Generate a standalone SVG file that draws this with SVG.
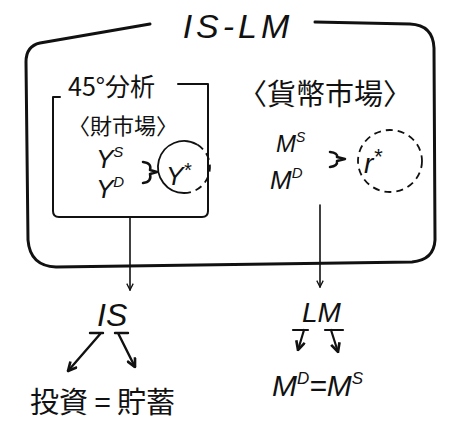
<svg xmlns="http://www.w3.org/2000/svg" width="459" height="426" viewBox="0 0 459 426">
<defs>
<style>
.t{font-family:"Liberation Sans","Noto Sans CJK JP",sans-serif;fill:#111;font-style:italic}
.j{font-family:"Noto Sans CJK JP","Liberation Sans",sans-serif;fill:#111}
.ln{fill:none;stroke:#111;stroke-linecap:round;stroke-linejoin:round}
.dash{fill:none;stroke:#111;stroke-width:1.8;stroke-dasharray:7 5}
</style>
<marker id="arr" viewBox="0 0 10 10" refX="9" refY="5" markerWidth="8" markerHeight="8" orient="auto" markerUnits="userSpaceOnUse">
<path d="M1,1 L9,5 L1,9" fill="none" stroke="#111" stroke-width="1.6"/>
</marker>
<marker id="arrB" viewBox="0 0 10 10" refX="9" refY="5" markerWidth="11" markerHeight="11" orient="auto" markerUnits="userSpaceOnUse">
<path d="M1,1 L9,5 L1,9" fill="none" stroke="#111" stroke-width="2.4"/>
</marker>
</defs>
<rect width="459" height="426" fill="#fff"/>

<g id="outer">
<path class="ln" stroke-width="3" d="M150,24 L40,43 Q26,46 26,62 L28,240 Q30,266 56,267 L412,262 Q434,260 435,240 L434,48 Q433,25 410,24 L315,22"/>
<text class="t" x="238" y="38" font-size="34" text-anchor="middle" letter-spacing="4">IS-LM</text>
</g>

<g id="goods">
<path class="ln" stroke-width="2" d="M60,97 L53,97 L53,211 Q53,217 59,217 L202,217 Q208,217 208,211 L208,84 L178,84"/>
<text class="j" x="68" y="96" font-size="25">45°分析</text>
<text class="j" x="68" y="134" font-size="22">〈財市場〉</text>
<text class="t" x="96" y="168" font-size="26">Y<tspan font-size="15" dy="-11">S</tspan></text>
<text class="t" x="96" y="198" font-size="26">Y<tspan font-size="15" dy="-11">D</tspan></text>
<path class="ln" stroke-width="2.5" d="M143,162 Q152,163 150,170 L157,172 L150,174 Q152,182 143,183"/>
<path class="ln" stroke-width="1.8" d="M197,144.5 A26,26 0 1 0 184,193"/>
<path class="dash" d="M184,193 A26,26 0 0 0 197,144.5"/>
<text class="t" x="166" y="185" font-size="26">Y<tspan font-size="20" dy="-8">*</tspan></text>
</g>

<g id="money">
<text class="j" x="238" y="105" font-size="29">〈貨幣市場〉</text>
<text class="t" x="276" y="152" font-size="24">M<tspan font-size="14" dy="-10">S</tspan></text>
<text class="t" x="270" y="189" font-size="26">M<tspan font-size="15" dy="-11">D</tspan></text>
<path class="ln" stroke-width="2.5" d="M330,152 Q338,153 337,157 L345,159 L337,161 Q338,166 330,167"/>
<ellipse class="dash" cx="390" cy="161" rx="32" ry="31"/>
<text class="t" x="364" y="173" font-size="28">r<tspan font-size="22" dy="-9">*</tspan></text>
</g>

<g id="is">
<text class="t" x="97" y="326" font-size="32">IS</text>
<text class="j" x="30" y="413" font-size="29">投資 = 貯蓄</text>
</g>

<g id="lm">
<text class="t" x="302" y="322" font-size="28">LM</text>
<text class="t" x="272" y="396" font-size="30">M<tspan font-size="17" dy="-12">D</tspan><tspan dy="12">=M</tspan><tspan font-size="17" dy="-12">S</tspan></text>
</g>

<g id="connectors">
<path class="ln" stroke-width="1.6" d="M130,218 L130,290" marker-end="url(#arr)"/>
<path class="ln" stroke-width="1.6" d="M320,205 L320,287" marker-end="url(#arr)"/>
<path class="ln" stroke-width="2.4" d="M90,333 L103,333 M101,333 L68,371" marker-end="url(#arrB)"/>
<path class="ln" stroke-width="2.4" d="M115,333 L128,333 M118,333 L135,367" marker-end="url(#arrB)"/>
<path class="ln" stroke-width="2.2" d="M293,330 L308,330 M304,330 L298,350" marker-end="url(#arrB)"/>
<path class="ln" stroke-width="2.2" d="M325,330 L343,330 M331,330 L338,352" marker-end="url(#arrB)"/>
</g>
</svg>
